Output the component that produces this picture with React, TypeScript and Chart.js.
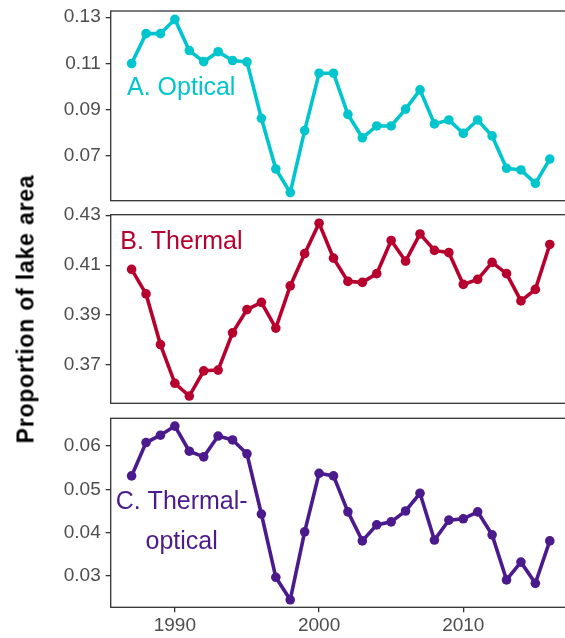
import React, { useEffect, useRef } from 'react';
import { Chart, registerables } from 'chart.js';

Chart.register(...registerables);

const years = [1987, 1988, 1989, 1990, 1991, 1992, 1993, 1994, 1995, 1996, 1997, 1998, 1999, 2000, 2001, 2002, 2003, 2004, 2005, 2006, 2007, 2008, 2009, 2010, 2011, 2012, 2013, 2014, 2015, 2016];

const opticalValues = [0.110, 0.1229, 0.1229, 0.1291, 0.1156, 0.1108, 0.1151, 0.1113, 0.1107, 0.0863, 0.0644, 0.0542, 0.0810, 0.1058, 0.1058, 0.0880, 0.0779, 0.0830, 0.0830, 0.0903, 0.0986, 0.0839, 0.0856, 0.0798, 0.0856, 0.0787, 0.0647, 0.0640, 0.0582, 0.0687];

const thermalValues = [0.4083, 0.3985, 0.3782, 0.3627, 0.3576, 0.3677, 0.3680, 0.3829, 0.3922, 0.3951, 0.3848, 0.4017, 0.4146, 0.4268, 0.4128, 0.4035, 0.4031, 0.4066, 0.4199, 0.4116, 0.4225, 0.4159, 0.4150, 0.4023, 0.4043, 0.4111, 0.4066, 0.3957, 0.4003, 0.4183];

const thermalOpticalValues = [0.0531, 0.0608, 0.0625, 0.0646, 0.0588, 0.0575, 0.0623, 0.0614, 0.0582, 0.0443, 0.0297, 0.0245, 0.0402, 0.0537, 0.0531, 0.0448, 0.0381, 0.0418, 0.0425, 0.0450, 0.0491, 0.0383, 0.0429, 0.0432, 0.0448, 0.0395, 0.0291, 0.0332, 0.0283, 0.0381];

const xTicks = [1990, 2000, 2010];
const opticalTicks = [0.07, 0.09, 0.11, 0.13];
const thermalTicks = [0.37, 0.39, 0.41, 0.43];
const thermalOpticalTicks = [0.03, 0.04, 0.05, 0.06];

const yTitle = 'Proportion of lake area';

const CANVAS_W = 580;
const CANVAS_H = 638;
const FONT = '"Liberation Sans", Arial, Helvetica, sans-serif';

const panelBox = {
  id: 'panelBox',
  beforeDatasetsDraw(chart: any) {
    const { ctx, chartArea } = chart;
    const { left, top, right, bottom } = chartArea;
    ctx.save();
    ctx.strokeStyle = '#333333';
    ctx.lineWidth = 1.3;
    ctx.strokeRect(left, top, right - left, bottom - top);
    ctx.restore();
  },
};

const panelLabel = {
  id: 'panelLabel',
  afterDatasetsDraw(chart: any, _args: any, opts: any) {
    if (!opts || !opts.lines) return;
    const { ctx } = chart;
    const xs = chart.scales.x;
    const ys = chart.scales.y;
    ctx.save();
    ctx.fillStyle = opts.color;
    ctx.font = `${opts.size}px ${FONT}`;
    ctx.textAlign = 'center';
    ctx.textBaseline = 'middle';
    for (const l of opts.lines) {
      ctx.fillText(l.text, xs.getPixelForValue(l.x), ys.getPixelForValue(l.y));
    }
    ctx.restore();
  },
};

type PanelDef = {
  values: number[];
  color: string;
  yMin: number;
  yMax: number;
  yTicks: number[];
  padTop: number;
  padBottom: number;
  showX: boolean;
  lines: { text: string; x: number; y: number }[];
};

const panels: PanelDef[] = [
  {
    values: opticalValues,
    color: '#00C5CD',
    yMin: 0.0507,
    yMax: 0.1327,
    yTicks: opticalTicks,
    padTop: 11,
    padBottom: CANVAS_H - 200.7,
    showX: false,
    lines: [{ text: 'A. Optical', x: 1990.44, y: 0.0993 }],
  },
  {
    values: thermalValues,
    color: '#B8002E',
    yMin: 0.3547,
    yMax: 0.4302,
    yTicks: thermalTicks,
    padTop: 214.7,
    padBottom: CANVAS_H - 403.3,
    showX: false,
    lines: [{ text: 'B. Thermal', x: 1990.45, y: 0.4193 }],
  },
  {
    values: thermalOpticalValues,
    color: '#4B1A8C',
    yMin: 0.02277,
    yMax: 0.0664,
    yTicks: thermalOpticalTicks,
    padTop: 418.3,
    padBottom: 0,
    showX: true,
    lines: [
      { text: 'C. Thermal-', x: 1990.47, y: 0.04707 },
      { text: 'optical', x: 1990.47, y: 0.03788 },
    ],
  },
];

function PanelChart({ def }: { def: PanelDef }) {
  const ref = useRef<HTMLCanvasElement | null>(null);
  useEffect(() => {
    if (!ref.current) return;
    const chart = new Chart(ref.current, {
      type: 'line',
      data: {
        datasets: [
          {
            data: years.map((y, i) => ({ x: y, y: def.values[i] })),
            borderColor: def.color,
            backgroundColor: def.color,
            pointBackgroundColor: def.color,
            pointBorderWidth: 0,
            pointRadius: 4.8,
            borderWidth: 3.6,
            tension: 0,
            clip: false,
          } as any,
        ],
      },
      options: {
        responsive: false,
        animation: false,
        events: [],
        layout: { padding: { top: def.padTop, bottom: def.padBottom, left: 0, right: CANVAS_W - 570.7 } },
        plugins: {
          legend: { display: false },
          tooltip: { enabled: false },
          panelLabel: { lines: def.lines, color: def.color, size: 25 },
        } as any,
        scales: {
          x: {
            type: 'linear',
            min: 1985.55,
            max: 2017.45,
            display: def.showX,
            afterBuildTicks: (s: any) => {
              s.ticks = xTicks.map((v) => ({ value: v }));
            },
            afterFit: (s: any) => {
              if (def.showX) {
                s.height = CANVAS_H - 607.3;
              } else {
                s.height = 0;
              }
              s.paddingLeft = 0;
              s.paddingRight = 0;
            },
            grid: { drawOnChartArea: false, drawTicks: true, tickLength: 5, color: '#333333', lineWidth: 1.3 },
            border: { display: false },
            ticks: {
              color: '#4D4D4D',
              font: { size: 19, family: FONT },
              padding: 2,
              maxRotation: 0,
              callback: (v: any) => String(v),
            },
          },
          y: {
            type: 'linear',
            min: def.yMin,
            max: def.yMax,
            afterBuildTicks: (s: any) => {
              s.ticks = def.yTicks.map((v) => ({ value: v }));
            },
            afterFit: (s: any) => {
              s.width = 110.7;
              s.paddingTop = 0;
              s.paddingBottom = 0;
            },
            grid: { drawOnChartArea: false, drawTicks: true, tickLength: 5, color: '#333333', lineWidth: 1.3 },
            border: { display: false },
            ticks: {
              color: '#4D4D4D',
              font: { size: 19, family: FONT },
              padding: 5,
              callback: (v: any) => Number(v).toFixed(2),
            },
          },
        },
      },
      plugins: [panelBox, panelLabel],
    } as any);
    return () => chart.destroy();
  }, [def]);
  return (
    <canvas
      ref={ref}
      width={CANVAS_W}
      height={CANVAS_H}
      style={{ position: 'absolute', left: 0, top: 0, width: CANVAS_W, height: CANVAS_H }}
    />
  );
}

export default function App() {
  return (
    <div
      style={{
        position: 'absolute',
        left: 0,
        top: 0,
        width: 565,
        height: 638,
        overflow: 'hidden',
        background: '#ffffff',
      }}
    >
      {panels.map((p, i) => (
        <PanelChart key={i} def={p} />
      ))}
      <div
        style={{
          position: 'absolute',
          left: 26,
          top: 309,
          transform: 'translate(-50%, -50%) rotate(-90deg)',
          whiteSpace: 'nowrap',
          fontFamily: FONT,
          fontWeight: 'bold',
          fontSize: 23,
          letterSpacing: '0.8px',
          color: '#000000',
          lineHeight: 1,
        }}
      >
        {yTitle}
      </div>
    </div>
  );
}
